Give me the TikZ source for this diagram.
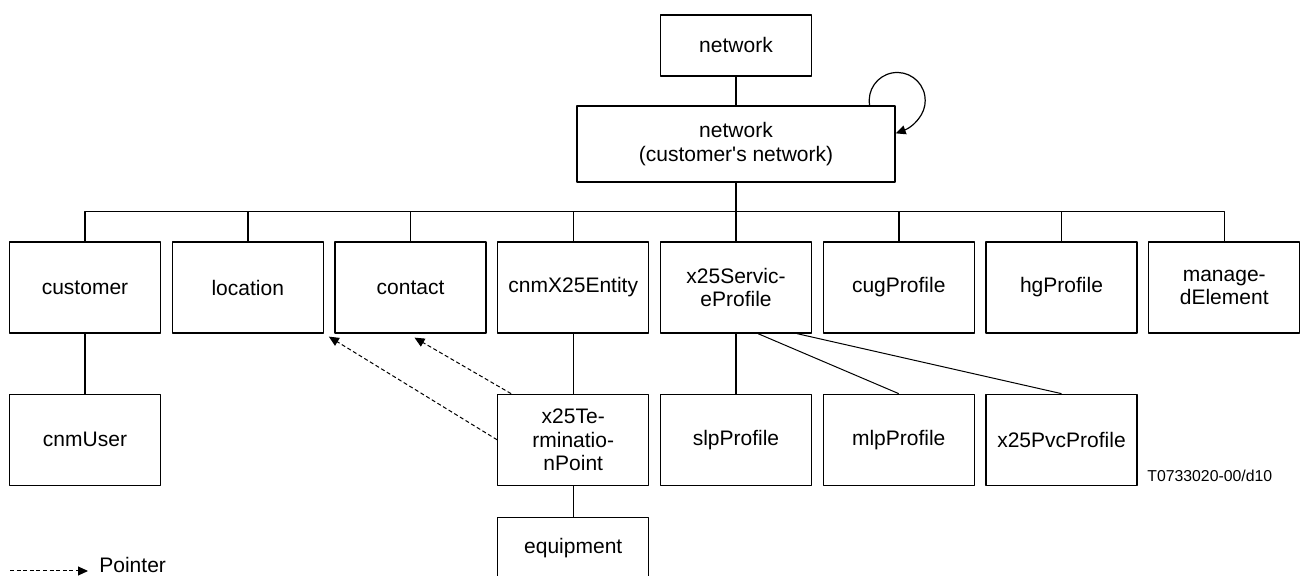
\documentclass[tikz,border=0pt]{standalone}
\usepackage{fontspec}
\setmainfont{Liberation Sans}
\usetikzlibrary{positioning,arrows.meta}
\begin{document}
\begin{tikzpicture}[x=.5pt, y=-.5pt, font=\fontsize{10.5}{11.8}\selectfont, line join=round, >={Triangle[length=5pt,width=4.5pt]},
	box/.style={draw, line width=.65pt, minimum width=75.5pt, minimum height=45.5pt, align=center, inner sep=1pt},
	link/.style={line width=.75pt},
	pointer/.style={->, dash pattern=on 2pt off 1.3pt, line width=.5pt}]
	\useasboundingbox (0,0) rectangle (1303,576);
	% top of the tree
	\node[box, minimum height=30.5pt] (net) at (736,45.5) {network};
	\node[box, minimum width=159pt, minimum height=38pt] (cnet) at (736,144) {network\\(customer\textquotesingle s network)};
	\foreach \n/\t [count=\i from 0] in {cust/customer, loc/location, cont/contact, ent/cnmX25Entity, serv/x25Servic-\\eProfile, cug/cugProfile, hg/hgProfile, mgd/manage-\\dElement}
		\node[box] (\n) at (85+162.75*\i,287.5) {\t};
	% second row
	\node[box, below=30pt of cust] (user) {cnmUser};
	\node[box, below=30pt of ent] (tp) {x25Te-\\rminatio-\\nPoint};
	\node[box, below=15.5pt of tp, minimum height=30pt] (equip) {equipment};
	\node[box, below=30pt of serv] (slp) {slpProfile};
	\node[box, below=30pt of cug] (mlp) {mlpProfile};
	\node[box, below=30pt of hg] (pvc) {x25PvcProfile};
	% connectors
	\draw[link] (net) -- (cnet);
	\draw[link] (cust.north) -- ++(0,-30) -| (mgd.north);
	\foreach \n in {loc,cont,ent,cug,hg} \draw[link] (\n.north) -- ++(0,-30);
	\draw[link] (cnet) -- (serv);
	\foreach \a/\b in {cust/user, ent/tp, tp/equip, serv/slp} \draw[link] (\a) -- (\b);
	\draw[line width=.5pt] ([xshift=11pt]serv.south) -- (mlp.north);
	\draw[line width=.5pt] ([xshift=30.5pt]serv.south) -- (pvc.north);
	\draw[->, line width=.6pt] ([xshift=-13pt]cnet.north east) arc[start angle=190, end angle=-30, radius=14pt]
		.. controls +(-120:6pt) and +(20:6pt) .. ([yshift=-14pt]cnet.north east);
	\draw[pointer] (tp.west) -- ([xshift=2.5pt,yshift=-1.5pt]loc.south east);
	\draw[pointer] ([xshift=7pt]tp.north west) -- ([xshift=2pt,yshift=-2pt]cont.south);
	% legend and tag
	\coordinate (keyA) at (10,571); \coordinate (keyB) at (88,571);
	\draw[pointer] (keyA) -- (keyB);
	\node[anchor=base west, inner sep=0pt] (key) at (99,573) {Pointer};
	\node[anchor=base west, inner sep=0pt, font=\fontsize{7.9}{9}\selectfont] (tag) at (1147,482) {T0733020-00/d10};
\end{tikzpicture}
\end{document}
